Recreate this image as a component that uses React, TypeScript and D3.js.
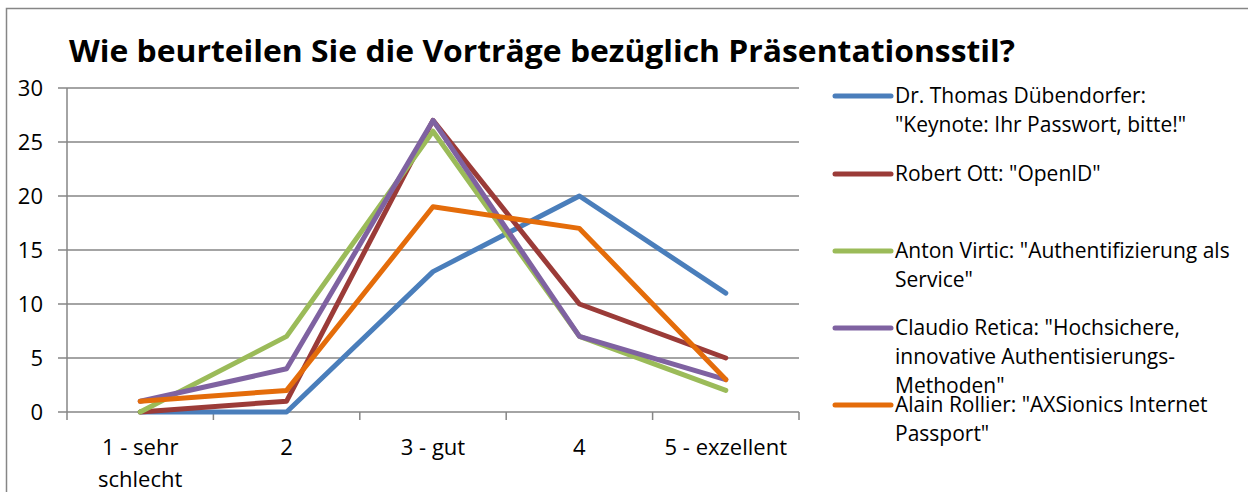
import React from "react";
import * as d3 from "d3";

const title = "Wie beurteilen Sie die Vorträge bezüglich Präsentationsstil?";
const categories = ["1 - sehr schlecht", "2", "3 - gut", "4", "5 - exzellent"];
const categoryLines = [["1 - sehr", "schlecht"], ["2"], ["3 - gut"], ["4"], ["5 - exzellent"]];
const yTicks = [0, 5, 10, 15, 20, 25, 30];

const dubendorfer = [0, 0, 13, 20, 11];
const ott = [0, 1, 27, 10, 5];
const virtic = [0, 7, 26, 7, 2];
const retica = [1, 4, 27, 7, 3];
const rollier = [1, 2, 19, 17, 3];

const seriesNames = [
  ["Dr. Thomas Dübendorfer:", "\"Keynote: Ihr Passwort, bitte!\""],
  ["Robert Ott: \"OpenID\""],
  ["Anton Virtic: \"Authentifizierung als", "Service\""],
  ["Claudio Retica: \"Hochsichere,", "innovative Authentisierungs-", "Methoden\""],
  ["Alain Rollier: \"AXSionics Internet", "Passport\""],
];
const seriesValues = [dubendorfer, ott, virtic, retica, rollier];
const colors = ["#4A7EBB", "#9B3B38", "#9BBB59", "#7F62A1", "#E46C0A"];

const W = 1248;
const H = 492;
const font = "'Open Sans', Lato, sans-serif";

export default function App() {
  const left = 67;
  const right = 799;
  const top = 88;
  const bottom = 412;

  const x = d3.scaleBand<string>().domain(categories).range([left, right]).padding(0);
  const y = d3.scaleLinear().domain([0, 30]).range([bottom, top]);
  const bw = x.bandwidth();
  const cx = (i: number) => (x(categories[i]) as number) + bw / 2;

  const line = d3
    .line<number>()
    .x((_, i) => cx(i))
    .y((d) => y(d));

  const legendX = 835;
  const legendY = [96, 174, 251, 328, 405];

  return (
    <svg
      width={W}
      height={H}
      style={{ position: "absolute", left: 0, top: 0, background: "#fff" }}
      fontFamily={font}
    >
      <rect x={6.5} y={8.5} width={W} height={H + 20} fill="#fff" stroke="#868686" strokeWidth={1.5} />
      <text
        x={69}
        y={62}
        fontSize={30}
        fontWeight="bold"
        fill="#000"
        textLength={946}
        lengthAdjust="spacingAndGlyphs"
      >
        {title}
      </text>

      {/* grid + y labels */}
      {yTicks.map((t) => (
        <g key={t}>
          <line x1={58} x2={right} y1={y(t)} y2={y(t)} stroke="#868686" strokeWidth={1.5} />
          <text x={43} y={y(t) + 8} textAnchor="end" fontSize={22} fill="#000">
            {t}
          </text>
        </g>
      ))}
      <line x1={left} x2={left} y1={top} y2={bottom + 8} stroke="#868686" strokeWidth={1.5} />
      {categories.map((c, i) => (
        <line
          key={"t" + i}
          x1={(x(c) as number) + bw}
          x2={(x(c) as number) + bw}
          y1={bottom}
          y2={bottom + 8}
          stroke="#868686"
          strokeWidth={1.5}
        />
      ))}
      {categoryLines.map((lines, i) =>
        lines.map((l, j) => (
          <text key={i + "-" + j} x={cx(i)} y={455 + j * 32} textAnchor="middle" fontSize={22} fill="#000">
            {l}
          </text>
        ))
      )}

      {/* series */}
      {seriesValues.map((vals, i) => (
        <path
          key={"s" + i}
          d={line(vals) as string}
          fill="none"
          stroke={colors[i]}
          strokeWidth={5}
          strokeLinejoin="round"
          strokeLinecap="round"
        />
      ))}

      {/* legend */}
      {seriesNames.map((lines, i) => (
        <g key={"l" + i}>
          <line
            x1={legendX}
            x2={legendX + 56}
            y1={legendY[i]}
            y2={legendY[i]}
            stroke={colors[i]}
            strokeWidth={5}
            strokeLinecap="round"
          />
          {lines.map((l, j) => (
            <text key={j} x={895} y={legendY[i] + 7 + j * 29} fontSize={21} fill="#000">
              {l}
            </text>
          ))}
        </g>
      ))}
    </svg>
  );
}
